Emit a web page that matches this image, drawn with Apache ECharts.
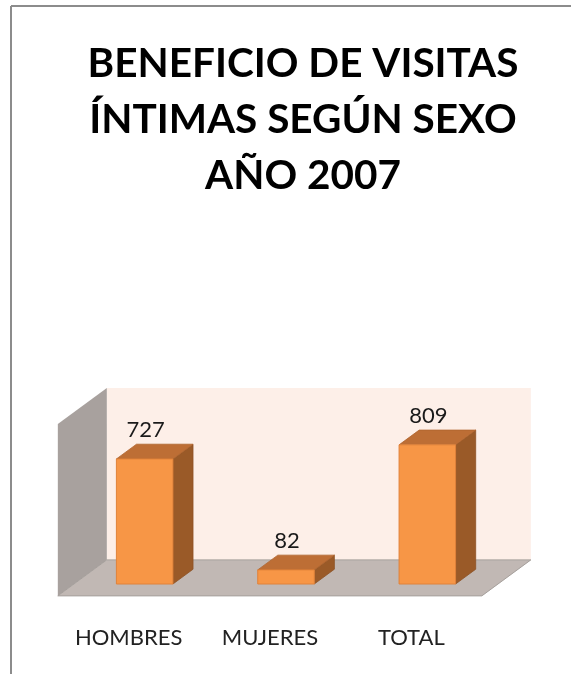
<!DOCTYPE html>
<html>
<head>
<meta charset="utf-8">
<title>Beneficio de visitas íntimas según sexo 2007</title>
<script src="https://cdn.jsdelivr.net/npm/echarts@6/dist/echarts.min.js"></script>
<style>
  html, body { margin: 0; padding: 0; background: #fff; }
  #chart { width: 571px; height: 674px; }
</style>
</head>
<body>
<div id="chart"></div>
<script>
var categories = ['HOMBRES', 'MUJERES', 'TOTAL'];
var values = [727, 82, 809];
var axisMax = 1000;

var chart = echarts.init(document.getElementById('chart'));

// vector hacia el fondo del piso, y que parte de el ocupan las barras
var depth = [49, -36];
var frontShift = 0.33;
var barDepth = 0.41;

function renderWalls(params, api) {
  var cs = params.coordSys;
  var y0 = api.coord([0, 0])[1];
  var y1 = api.coord([0, axisMax])[1];
  var fx = -depth[0] * frontShift, fy = -depth[1] * frontShift;
  var left = cs.x + fx, right = cs.x + cs.width + fx;
  var bottom = y0 + fy, top = y1 + fy;
  var dx = depth[0], dy = depth[1];
  return {
    type: 'group',
    children: [
      { // pared del fondo
        type: 'polygon',
        shape: { points: [[left + dx, bottom + dy], [right + dx, bottom + dy], [right + dx, top + dy], [left + dx, top + dy]] },
        style: { fill: '#fdefe8' }
      },
      { // pared lateral
        type: 'polygon',
        shape: { points: [[left, bottom], [left + dx, bottom + dy], [left + dx, top + dy], [left, top]] },
        style: { fill: '#a8a19e' }
      },
      { // piso
        type: 'polygon',
        shape: { points: [[left, bottom], [right, bottom], [right + dx, bottom + dy], [left + dx, bottom + dy]] },
        style: { fill: '#c1b8b4', stroke: '#a6a09c', lineWidth: 1 }
      }
    ]
  };
}

function renderBar(params, api) {
  var p0 = api.coord([api.value(0), 0]);
  var p1 = api.coord([api.value(0), api.value(1)]);
  var w = api.size([1, 0])[0] * 0.4;
  var l = p0[0] - w / 2, r = p0[0] + w / 2, b = p0[1], t = p1[1];
  var dx = depth[0] * barDepth, dy = depth[1] * barDepth;
  return {
    type: 'group',
    children: [
      {
        type: 'polygon',
        shape: { points: [[r, t], [r + dx, t + dy], [r + dx, b + dy], [r, b]] },
        style: { fill: '#9a5a28', stroke: '#8d5224', lineWidth: 0.8 }
      },
      {
        type: 'polygon',
        shape: { points: [[l, t], [r, t], [r + dx, t + dy], [l + dx, t + dy]] },
        style: { fill: '#bd6e35', stroke: '#b0652f', lineWidth: 0.8 }
      },
      {
        type: 'rect',
        shape: { x: l, y: t, width: w, height: b - t },
        style: { fill: '#f79646', stroke: '#e0823a', lineWidth: 1 }
      },
      {
        type: 'text',
        x: p0[0] + 1,
        y: t + dy - 3,
        style: {
          text: String(api.value(1)),
          align: 'center',
          verticalAlign: 'bottom',
          font: '22px Lato',
          fill: '#1a1a1a'
        }
      }
    ]
  };
}

var option = {
  backgroundColor: '#ffffff',
  animation: false,
  title: {
    text: 'BENEFICIO DE VISITAS\nÍNTIMAS SEGÚN SEXO\nAÑO 2007',
    left: 298,
    top: 31,
    textAlign: 'center',
    textStyle: {
      fontFamily: 'Lato',
      fontWeight: 'bold',
      fontSize: 40.5,
      lineHeight: 56,
      color: '#000'
    }
  },
  graphic: [
    { type: 'line', shape: { x1: 11, y1: 6, x2: 571, y2: 6 }, style: { stroke: '#8c8c8c', lineWidth: 2 } },
    { type: 'line', shape: { x1: 11, y1: 6, x2: 11, y2: 674 }, style: { stroke: '#8c8c8c', lineWidth: 2 } }
  ],
  grid: [
    { left: 74, right: 73, top: 412, bottom: 90 },
    { left: 58, right: 89, top: 424, bottom: 78 }
  ],
  xAxis: [
    {
      type: 'category', gridIndex: 0, data: categories,
      axisLine: { show: false }, axisTick: { show: false }, axisLabel: { show: false }
    },
    {
      type: 'category', gridIndex: 1, data: categories,
      axisLine: { show: false }, axisTick: { show: false },
      axisLabel: { margin: 31, fontFamily: 'Lato', fontSize: 22, color: '#222' }
    }
  ],
  yAxis: [
    { type: 'value', gridIndex: 0, min: 0, max: axisMax, show: false },
    { type: 'value', gridIndex: 1, min: 0, max: axisMax, show: false }
  ],
  series: [
    {
      type: 'custom',
      xAxisIndex: 0, yAxisIndex: 0,
      renderItem: renderWalls,
      clip: false,
      silent: true,
      z: 1,
      data: [[0, 0]]
    },
    {
      type: 'custom',
      xAxisIndex: 0, yAxisIndex: 0,
      renderItem: renderBar,
      clip: false,
      z: 2,
      data: values.map(function (v, i) { return [i, v]; })
    }
  ]
};

chart.setOption(option);
</script>
</body>
</html>
